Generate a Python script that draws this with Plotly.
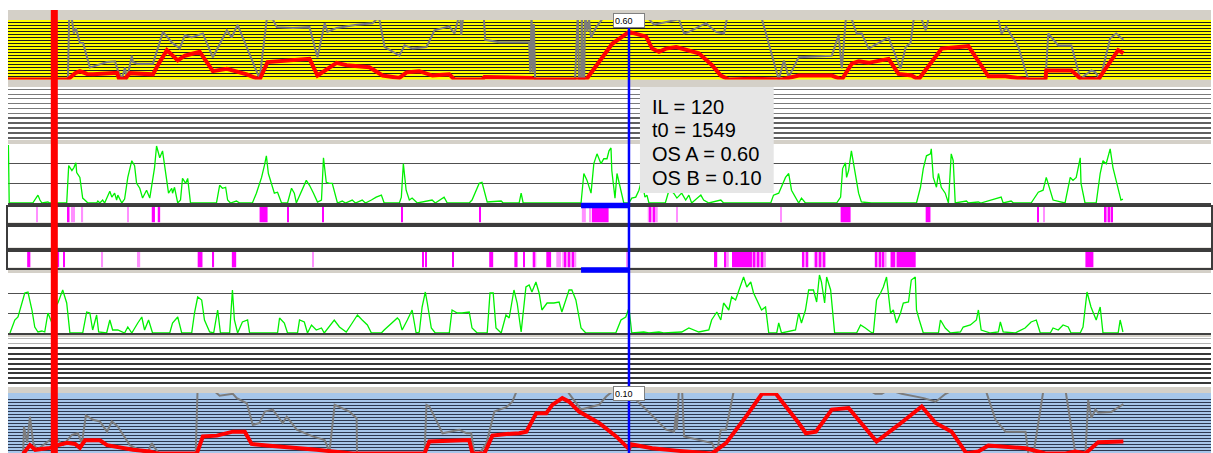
import plotly.graph_objects as go

# ---------------- cursor / window readout ----------------
T0 = 1549          # time of the blue cursor
IL = 120           # integration length (window ending at T0)
OS_A = 0.60        # overlap score, track A
OS_B = 0.10        # overlap score, track B
CURSOR_A = 110     # red reference cursor

X_RANGE = [-6, 3006.5]

# ---------------- track A overlap score (top, yellow) ----------------
osa_red_t = [-6, 144, 162, 174, 192, 207, 267, 272, 287, 299, 357, 369, 392, 419, 437, 474, 507, 542, 592, 624,
             644, 699, 749, 769, 817, 842, 899, 932, 974, 992, 1024, 1057, 1099, 1112, 1182, 1187, 1304, 1312,
             1442, 1474, 1507, 1549, 1592, 1607, 1624, 1642, 1667, 1724, 1757, 1779, 1799, 1857, 1932, 1974,
             2057, 2082, 2107, 2124, 2149, 2199, 2224, 2257, 2274, 2332, 2399, 2449, 2492, 2549, 2592, 2594,
             2657, 2682, 2707, 2724, 2774, 2787]
osa_red_v = [0.0, 0.0, 0.08, 0.105, 0.07, 0.065, 0.085, 0.01, 0.01, 0.08, 0.065, 0.18, 0.37, 0.24, 0.30, 0.35, 0.105,
             0.135, 0.065, 0.0, 0.22, 0.24, 0.26, 0.05, 0.21, 0.18, 0.155, 0.05, 0.02, 0.09, 0.105, 0.05, 0.065, 0.0,
             0.0, 0.03, 0.02, 0.0, 0.0, 0.22, 0.45, 0.60, 0.54, 0.39, 0.35, 0.39, 0.41, 0.33, 0.18, 0.05, 0.0, 0.01,
             0.0, 0.05, 0.05, 0.0, 0.20, 0.23, 0.21, 0.26, 0.07, 0.05, 0.0, 0.39, 0.42, 0.04, 0.04, 0.0, 0.0, 0.115,
             0.115, 0.0, 0.01, 0.0, 0.37, 0.33]

osa_gray_t = [144, 147, 154, 159, 164, 174, 182, 199, 242, 262, 269, 279, 287, 292, 304, 307, 317, 357, 382, 404,
              424, 437, 454, 482, 507, 542, 554, 569, 624, 642, 657, 667, 707, 749, 769, 787, 794, 817, 867, 907,
              917, 924, 937, 974, 987, 1007, 1042, 1062, 1099, 1112, 1126, 1129, 1136, 1184, 1189, 1224, 1299,
              1302, 1305, 1308, 1311, 1314, 1414, 1421, 1424, 1429, 1431, 1434, 1437, 1439, 1445, 1449, 1454,
              1467, 1482, 1500, 1590, 1599, 1612, 1642, 1674, 1687, 1699, 1742, 1767, 1787, 1794, 1810, 1870,
              1882, 1924, 1937, 1949, 1974, 2057, 2074, 2082, 2092, 2107, 2119, 2132, 2149, 2199, 2229, 2242,
              2254, 2262, 2282, 2292, 2299, 2320, 2460, 2474, 2482, 2494, 2524, 2549, 2592, 2599, 2624, 2657,
              2679, 2707, 2717, 2729, 2754, 2769, 2787]
osa_gray_v = [0.0, 0.76, 0.76, 0.58, 0.65, 0.46, 0.46, 0.15, 0.22, 0.23, 0.115, 0.01, 0.15, 0.0, 0.30, 0.22, 0.20,
              0.20, 0.60, 0.47, 0.39, 0.56, 0.53, 0.58, 0.28, 0.62, 0.53, 0.69, 0.01, 0.76, 0.76, 0.66, 0.65, 0.66,
              0.28, 0.71, 0.60, 0.65, 0.69, 0.71, 0.76, 0.76, 0.41, 0.30, 0.43, 0.39, 0.41, 0.62, 0.67, 0.58, 0.85,
              0.56, 0.9, 0.9, 0.50, 0.47, 0.47, 0.09, 0.85, 0.09, 0.70, 0.0, 0.0, 0.85, 0.0, 0.0, 0.85, 0.0, 0.0,
              0.85, 0.60, 0.76, 0.53, 0.66, 0.76, 0.9, 0.9, 0.76, 0.69, 0.72, 0.76, 0.58, 0.60, 0.71, 0.60, 0.58,
              0.76, 0.9, 0.9, 0.76, 0.0, 0.24, 0.03, 0.28, 0.30, 0.56, 0.14, 0.76, 0.76, 0.58, 0.58, 0.39, 0.53,
              0.14, 0.41, 0.46, 0.76, 0.76, 0.62, 0.76, 0.9, 0.9, 0.76, 0.58, 0.66, 0.41, 0.0, 0.0, 0.58, 0.43,
              0.43, 0.01, 0.115, 0.09, 0.0, 0.52, 0.58, 0.50]

# ---------------- activity, track A ----------------
act_a_t = [-5, -3, 56, 69, 74, 79, 94, 99, 141, 146, 154, 159, 164, 166, 174, 179, 181, 189, 194, 216, 219, 224,
           231, 236, 249, 254, 261, 266, 269, 279, 286, 294, 304, 311, 316, 324, 331, 341, 349, 356, 361, 366, 374,
           381, 386, 391, 396, 404, 406, 411, 419, 426, 431, 439, 444, 451, 516, 524, 531, 539, 544, 551, 566, 574,
           606, 616, 629, 636, 641, 646, 654, 661, 669, 679, 694, 704, 711, 716, 741, 749, 759, 769, 779, 784, 791,
           799, 806, 819, 831, 839, 856, 864, 881, 889, 904, 916, 929, 936, 974, 979, 984, 991, 999, 1006, 1019,
           1056, 1064, 1086, 1094, 1149, 1156, 1174, 1181, 1189, 1194, 1229, 1234, 1274, 1279, 1284, 1429, 1436,
           1444, 1454, 1461, 1469, 1479, 1486, 1494, 1499, 1504, 1506, 1514, 1519, 1529, 1536, 1549, 1556, 1566,
           1574, 1581, 1589, 1594, 1599, 1640, 1650, 1661, 1669, 1681, 1691, 1699, 1706, 1729, 1736, 1749, 1779,
           1786, 1904, 1911, 1924, 1941, 1949, 1956, 1969, 1974, 1981, 1991, 2069, 2079, 2084, 2091, 2094, 2099,
           2106, 2111, 2116, 2124, 2131, 2156, 2269, 2279, 2286, 2294, 2304, 2306, 2311, 2319, 2324, 2331, 2341,
           2349, 2356, 2361, 2366, 2394, 2399, 2424, 2430, 2481, 2486, 2506, 2512, 2556, 2574, 2586, 2594, 2604,
           2611, 2641, 2654, 2661, 2669, 2679, 2681, 2691, 2719, 2729, 2736, 2744, 2754, 2761, 2769, 2774, 2781,
           2786]
act_a_v = [2.95, 0, 0, 0.4, 0.15, 0, 0.05, 0, 0, 1.9, 1.65, 1.8, 2.05, 1.55, 1.3, 0.65, 0.25, 0.1, 0, 0, 0.1, 0,
           0.15, 0, 0.6, 0.3, 0.5, 0.15, 0.4, 0, 0.2, 1.3, 2.15, 1.9, 1.0, 0.75, 0.25, 0.65, 0.25, 1.15, 1.8, 2.9,
           2.3, 2.65, 2.0, 1.3, 0.5, 0.75, 0.5, 0.8, 0, 0.15, 1.25, 1.0, 1.25, 0, 0, 0.9, 0.75, 0.8, 0.15, 0, 0.1,
           0, 0, 0.5, 1.3, 1.9, 2.4, 1.5, 1.0, 0.5, 0.55, 0, 0, 0.75, 0.5, 0, 1.15, 0.9, 0.5, 0.05, 0.15, 2.3,
           1.05, 1.0, 1.0, 0, 0.1, 0, 0.15, 0, 0.15, 0, 0.15, 0.3, 0.4, 0, 0, 0.3, 2.0, 0.65, 0.15, 0.25, 0, 0.15,
           0, 0.3, 0, 0, 0.15, 1.0, 1.05, 0.5, 0.05, 0.1, 0, 0, 0.5, 0, 0, 1.5, 1.15, 0.5, 2.0, 2.5, 2.0, 2.25,
           2.25, 2.65, 2.8, 1.65, 0.25, 1.5, 0.65, 0, 0, 0.25, 0.3, 0.65, 1.2, 0.3, 0.4, 0, 0, 0.7, 0.5, 0.25, 0.5,
           0.15, 0.4, 0, 0.4, 0.15, 0, 0.15, 0, 0, 0.4, 0.5, 1.3, 1.5, 0.65, 0.15, 0, 0.25, 0, 0, 0.3, 1.75, 2.05,
           1.3, 1.65, 2.65, 2.0, 1.5, 0.5, 0.05, 0, 0, 0.8, 1.75, 2.4, 2.5, 2.75, 1.3, 0.8, 1.5, 0.8, 0.5, 0, 2.5,
           2.15, 0, 0.1, 0, 0.05, 0, 0.3, 0, 0.1, 0, 0, 0.55, 0.65, 1.3, 0.65, 0.15, 0, 1.3, 1.15, 1.3, 2.3, 1.0,
           0, 0, 1.5, 2.15, 2.0, 2.75, 1.8, 1.15, 0.8, 0.15, 0.2]

# ---------------- event rasters ----------------
ev_a_light_start = [66, 152, 157, 179, 292, 1431, 1449, 1596, 1667, 1929, 2587, 2739]
ev_a_light_dur = [3, 3, 3, 3, 3, 10, 5, 25, 3, 3, 3, 22]
ev_a_start = [144, 354, 369, 624, 694, 782, 979, 1174, 1456, 1601, 1611, 2079, 2292, 2571, 2741, 2749, 2757]
ev_a_dur = [4, 8, 6, 20, 3, 3, 4, 3, 42, 3, 3, 25, 12, 3, 3, 3, 3]

ev_b_light_start = [229, 317, 554, 757, 1307, 1367, 1382, 1544, 1787, 1857, 1982, 2012, 2164]
ev_b_light_dur = [3, 8, 12, 3, 10, 12, 35, 3, 12, 35, 17, 30, 30]
ev_b_start = [42, 119, 132, 469, 507, 556, 561, 1032, 1039, 1107, 1199, 1262, 1284, 1309, 1342, 1387, 1397, 1407,
              1762, 1789, 1807, 1862, 1872, 1882, 1984, 1994, 2017, 2027, 2037, 2166, 2176, 2184, 2204, 2219, 2692]
ev_b_dur = [8, 3, 3, 12, 3, 3, 3, 3, 3, 3, 10, 8, 3, 3, 12, 3, 3, 3, 8, 3, 50, 3, 3, 3, 3, 3, 3, 3, 3, 3, 3, 3,
            12, 48, 20]

# ---------------- activity, track B ----------------
act_b_t = [-1, 11, 19, 29, 36, 44, 54, 61, 69, 79, 86, 94, 104, 111, 119, 131, 141, 149, 181, 191, 199, 206, 216,
           221, 241, 249, 256, 269, 286, 294, 304, 319, 329, 336, 346, 356, 399, 406, 419, 429, 454, 461, 469, 479,
           486, 499, 509, 519, 526, 549, 556, 561, 569, 581, 594, 599, 669, 674, 686, 694, 719, 724, 736, 744, 754,
           766, 779, 786, 804, 811, 824, 841, 856, 869, 881, 894, 904, 929, 936, 954, 969, 974, 981, 994, 1006, 1016,
           1024, 1031, 1039, 1044, 1054, 1064, 1099, 1106, 1119, 1131, 1149, 1156, 1169, 1194, 1201, 1209, 1216,
           1229, 1241, 1249, 1261, 1269, 1279, 1291, 1299, 1306, 1316, 1324, 1331, 1344, 1361, 1374, 1381, 1399,
           1406, 1416, 1429, 1441, 1516, 1529, 1541, 1549, 1556, 1586, 1599, 1624, 1636, 1681, 1699, 1724, 1749,
           1756, 1769, 1779, 1786, 1799, 1806, 1816, 1824, 1836, 1844, 1854, 1861, 1874, 1881, 1891, 1899, 1919,
           1924, 1931, 1966, 1974, 1981, 1991, 1999, 2011, 2019, 2026, 2031, 2039, 2044, 2054, 2064, 2119, 2129,
           2141, 2154, 2161, 2169, 2179, 2186, 2194, 2204, 2211, 2219, 2229, 2236, 2249, 2256, 2266, 2269, 2276,
           2286, 2324, 2329, 2341, 2354, 2379, 2386, 2404, 2419, 2424, 2431, 2454, 2474, 2479, 2486, 2516, 2541,
           2556, 2569, 2579, 2604, 2611, 2624, 2636, 2649, 2656, 2679, 2686, 2696, 2706, 2719, 2729, 2736, 2774,
           2779, 2786]
act_b_v = [0, 0.65, 0.8, 1.5, 2.0, 2.05, 1.15, 0.3, 0.05, 0.1, 0.05, 1.0, 0.5, 1.3, 1.5, 2.15, 1.5, 0, 0, 1.05,
           1.0, 0.15, 0.9, 0.05, 0, 0.65, 0.15, 0.15, 0, 0.3, 0, 0.5, 0.8, 0.15, 0.65, 0, 0, 0.5, 0.8, 0, 0, 1.0,
           1.8, 1.65, 0.65, 0.05, 0, 1.15, 0, 0, 2.15, 0.65, 0, 0.55, 0.65, 0, 0, 0.75, 0.5, 0, 0, 0.65, 0.55, 0,
           0.4, 0.15, 0.25, 0, 0.5, 0.65, 0.3, 0.05, 0.5, 0.9, 0.65, 0.4, 0, 0, 0.15, 0.5, 0.75, 0.65, 0.15, 0.65,
           1.15, 0, 0.05, 1.3, 2.05, 1.5, 0.25, 0, 0, 1.15, 1.0, 1.0, 1.05, 0.25, 0, 0, 2.0, 2.0, 0.25, 0, 0.9,
           0.75, 2.15, 1.5, 0.05, 2.3, 2.4, 2.05, 2.55, 2.0, 1.15, 1.5, 1.5, 1.55, 1.05, 2.15, 2.15, 1.65, 0.25, 0,
           0, 0.65, 0.8, 1.25, 0, 0.05, 0, 0.05, 0, 0.05, 0.25, 0.05, 0.15, 0.65, 1.05, 0.65, 1.5, 1.15, 1.8, 1.65,
           2.15, 2.8, 2.3, 2.55, 2.0, 1.5, 1.15, 1.3, 0, 0, 0.5, 0, 0.15, 1.0, 0.5, 1.15, 2.15, 2.15, 1.55, 2.9,
           2.55, 1.5, 2.8, 2.15, 0, 0, 0.4, 0.25, 0.05, 0, 1.65, 2.0, 2.3, 2.8, 1.0, 1.15, 0.5, 1.0, 1.5, 1.55,
           2.65, 2.8, 1.15, 0.65, 0, 0, 0.65, 0.25, 0, 0.05, 0.3, 0.4, 0.65, 1.15, 0.15, 0, 0.05, 0.55, 0.05, 0,
           0.25, 0.55, 0.65, 0, 0, 0.25, 0.15, 0.4, 0.3, 0, 0, 0.3, 2.05, 1.3, 0.65, 1.3, 0, 0, 0.65, 0.05]

# ---------------- track B overlap score (bottom, blue) ----------------
osb_red_t = [32, 49, 62, 99, 119, 142, 162, 174, 187, 224, 242, 267, 307, 349, 367, 467, 482, 517, 549, 557, 587,
             604, 642, 682, 724, 767, 807, 857, 1037, 1049, 1149, 1157, 1187, 1207, 1242, 1274, 1292, 1317, 1342,
             1357, 1382, 1399, 1424, 1474, 1517, 1549, 1554, 1607, 1667, 1757, 1792, 1842, 1882, 1917, 1974, 1992,
             2017, 2057, 2099, 2169, 2224, 2282, 2317, 2357, 2394, 2424, 2449, 2507, 2542, 2592, 2642, 2667, 2692,
             2724, 2787]
osb_red_v = [0.04, 0.15, 0.09, 0.115, 0.15, 0.18, 0.165, 0.115, 0.21, 0.21, 0.15, 0.125, 0.09, 0.07, 0.045, 0.045,
             0.26, 0.27, 0.30, 0.32, 0.32, 0.165, 0.145, 0.13, 0.11, 0.09, 0.07, 0.045, 0.045, 0.195, 0.215, 0.045,
             0.045, 0.27, 0.29, 0.30, 0.32, 0.555, 0.555, 0.66, 0.745, 0.70, 0.575, 0.43, 0.26, 0.10, 0.16, 0.11,
             0.08, 0.045, 0.175, 0.51, 0.80, 0.80, 0.43, 0.30, 0.32, 0.60, 0.62, 0.195, 0.405, 0.64, 0.43, 0.32,
             0.045, 0.07, 0.145, 0.13, 0.11, 0.045, 0.045, 0.07, 0.045, 0.185, 0.195]

osb_gray_t = [32, 34, 42, 49, 57, 67, 99, 119, 132, 154, 169, 179, 189, 207, 224, 242, 254, 269, 299, 324, 342,
              354, 362, 374, 464, 469, 512, 514, 524, 557, 567, 592, 607, 624, 637, 657, 682, 692, 717, 757, 787,
              799, 812, 849, 867, 868, 1037, 1042, 1049, 1074, 1082, 1124, 1142, 1154, 1162, 1174, 1192, 1212,
              1242, 1257, 1269, 1392, 1407, 1429, 1474, 1492, 1512, 1549, 1562, 1592, 1642, 1662, 1667, 1669, 1674,
              1682, 1687, 1757, 1769, 1779, 1792, 1812, 2149, 2166, 2182, 2199, 2232, 2287, 2317, 2342, 2362, 2442,
              2467, 2492, 2542, 2549, 2562, 2587, 2642, 2667, 2692, 2699, 2707, 2717, 2724, 2757, 2787]
osb_gray_v = [0.04, 0.385, 0.18, 0.51, 0.18, 0.09, 0.215, 0.215, 0.15, 0.28, 0.30, 0.175, 0.525, 0.47, 0.45, 0.32,
              0.45, 0.385, 0.15, 0.09, 0.04, 0.175, 0.11, 0.04, 0.04, 0.9, 0.9, 0.82, 0.775, 0.80, 0.745, 0.68,
              0.405, 0.43, 0.575, 0.60, 0.43, 0.51, 0.345, 0.26, 0.215, 0.065, 0.66, 0.575, 0.49, 0.04, 0.04, 0.66,
              0.64, 0.385, 0.30, 0.345, 0.30, 0.30, 0.04, 0.04, 0.175, 0.575, 0.63, 0.70, 0.85, 0.85, 0.745, 0.60,
              0.66, 0.765, 0.85, 0.85, 0.745, 0.60, 0.345, 0.32, 0.555, 0.345, 0.85, 0.85, 0.26, 0.175, 0.04, 0.345,
              0.345, 0.85, 0.85, 0.80, 0.80, 0.85, 0.80, 0.745, 0.70, 0.80, 0.85, 0.85, 0.47, 0.32, 0.32, 0.04, 0.04,
              0.85, 0.85, 0.04, 0.04, 0.72, 0.495, 0.60, 0.56, 0.57, 0.67]

# ---------------- page geometry (pixel rows of each band) ----------------
FIG_W, FIG_H = 1213, 453
M_L, M_T = 8, 10
PLOT_H = FIG_H - M_T
UNITS_PER_PX = (X_RANGE[1] - X_RANGE[0]) / (FIG_W - M_L)


def ypaper(row):
    return (FIG_H - row) / PLOT_H


def ydom(top, bottom):
    return [ypaper(bottom), ypaper(top)]


bands = [
    ("osa", 20, 79.5, "#ffff00"),
    ("grid1", 87, 140, "#ffffff"),
    ("act1", 144, 203, "#ffffff"),
    ("evA", 206.5, 222.5, "#ffffff"),
    ("evE", 226.5, 247.5, "#ffffff"),
    ("evB", 251.5, 267.5, "#ffffff"),
    ("act2", 273, 333, "#ffffff"),
    ("grid2", 337, 387, "#ffffff"),
    ("osb", 393, 453, "#a6c6ea"),
]
idx = {name: i + 1 for i, (name, *_rest) in enumerate(bands)}


def ax(name):
    i = idx[name]
    return ("x" if i == 1 else f"x{i}"), ("y" if i == 1 else f"y{i}")


fig = go.Figure()

# every band gets a (possibly empty) trace so that its subplot is created
for name, *_rest in bands:
    xa_, ya_ = ax(name)
    fig.add_trace(go.Scatter(x=[None], y=[None], mode="lines", xaxis=xa_, yaxis=ya_, hoverinfo="skip"))

GRAY_LINE = dict(color="#7c7c7c", width=2)
RED_LINE = dict(color="#ff0000", width=4)
GREEN_LINE = dict(color="#00f000", width=1.3)

# ---- traces ----
xa, ya = ax("osa")
fig.add_trace(go.Scatter(x=osa_gray_t, y=osa_gray_v, mode="lines", line=GRAY_LINE, xaxis=xa, yaxis=ya))
fig.add_trace(go.Scatter(x=osa_red_t, y=osa_red_v, mode="lines", line=RED_LINE, xaxis=xa, yaxis=ya))

xa, ya = ax("act1")
fig.add_trace(go.Scatter(x=act_a_t, y=act_a_v, mode="lines", line=GREEN_LINE, xaxis=xa, yaxis=ya))

xa, ya = ax("act2")
fig.add_trace(go.Scatter(x=act_b_t, y=act_b_v, mode="lines", line=GREEN_LINE, xaxis=xa, yaxis=ya))


def add_events(starts, durs, color, band):
    xa_, ya_ = ax(band)
    fig.add_trace(go.Bar(x=[s + d / 2 for s, d in zip(starts, durs)], y=[1] * len(starts), width=durs, base=0,
                         marker=dict(color=color, line=dict(width=0)), xaxis=xa_, yaxis=ya_))


add_events(ev_a_light_start, ev_a_light_dur, "#ff90ff", "evA")
add_events(ev_a_start, ev_a_dur, "#ff00ff", "evA")
add_events(ev_b_light_start, ev_b_light_dur, "#ff90ff", "evB")
add_events(ev_b_start, ev_b_dur, "#ff00ff", "evB")

xa, ya = ax("osb")
fig.add_trace(go.Scatter(x=osb_gray_t, y=osb_gray_v, mode="lines", line=GRAY_LINE, xaxis=xa, yaxis=ya))
fig.add_trace(go.Scatter(x=osb_red_t, y=osb_red_v, mode="lines", line=RED_LINE, xaxis=xa, yaxis=ya))

# ---- axes ----
layout = {}
hidden = dict(showticklabels=False, ticks="", zeroline=False, showgrid=False, showline=False, fixedrange=True)
for name, top, bottom, _bg in bands:
    i = idx[name]
    xkey = "xaxis" if i == 1 else f"xaxis{i}"
    ykey = "yaxis" if i == 1 else f"yaxis{i}"
    xa_, ya_ = ax(name)
    xcfg = dict(hidden, domain=[0, 1], range=X_RANGE, anchor=ya_)
    if i > 1:
        xcfg["matches"] = "x"
    ycfg = dict(hidden, domain=ydom(top, bottom), anchor=xa_)
    layout[xkey] = xcfg
    layout[ykey] = ycfg

layout["yaxis"].update(range=[0, 0.75], showgrid=True, tickmode="linear", tick0=0, dtick=0.0375,
                       gridcolor="#1e1e1e", gridwidth=1)

g1 = layout[f"yaxis{idx['grid1']}"]
g1.update(range=[0, 53], showgrid=True, tickmode="array", tickvals=[22.3, 17.3, 12.3, 7.3, 2.3],
          gridcolor="#606060", gridwidth=2,
          minor=dict(tickmode="array", tickvals=[50.7, 46, 41.3, 36.7, 31.7, 26.7], showgrid=True,
                     gridcolor="#7a7a7a", gridwidth=1))

for name in ("act1", "act2"):
    layout[f"yaxis{idx[name]}"].update(range=[0, 3], showgrid=True, tickmode="array", tickvals=[0, 1, 2],
                                       gridcolor="#505050", gridwidth=1)
    layout[f"xaxis{idx[name]}"].update(showline=True, linecolor="#404040", linewidth=1.5)

for name in ("evA", "evE", "evB"):
    i = idx[name]
    layout[f"yaxis{i}"].update(range=[0, 1], showline=True, mirror=True, linecolor="#3c3c3c", linewidth=2)
    layout[f"xaxis{i}"].update(showline=True, mirror=True, linecolor="#3c3c3c", linewidth=2)

g2 = layout[f"yaxis{idx['grid2']}"]
g2.update(range=[0, 50], showgrid=True, tickmode="array",
          tickvals=[38.7, 33, 27.7, 23, 18.3, 13.7, 8.7, 3.7], gridcolor="#383838", gridwidth=2,
          minor=dict(tickmode="array", tickvals=[48.7, 43.7], showgrid=True, gridcolor="#b4b4b4", gridwidth=1))

layout[f"yaxis{idx['osb']}"].update(range=[0.05, 0.81], showgrid=True, tickmode="array",
                                    tickvals=[0.05 + 0.038 * k for k in range(1, 19)],
                                    gridcolor="#2c3850", gridwidth=1)

# ---- backgrounds, cursors and window markers ----
shapes = [dict(type="rect", xref="paper", yref="paper", x0=0, x1=1, y0=0, y1=1, fillcolor="#d4d0c8",
               line=dict(width=0), layer="below")]
for name, top, bottom, bg in bands:
    xa_, ya_ = ax(name)
    shapes.append(dict(type="rect", xref=f"{xa_} domain", yref=f"{ya_} domain", x0=0, x1=1, y0=0, y1=1,
                       fillcolor=bg, line=dict(width=0), layer="below"))

shapes.append(dict(type="line", xref="x", yref="paper", x0=CURSOR_A, x1=CURSOR_A, y0=0, y1=1,
                   line=dict(color="#ff0000", width=7), layer="above"))
shapes.append(dict(type="line", xref="x", yref="paper", x0=T0, x1=T0, y0=0, y1=ypaper(20),
                   line=dict(color="#0000ff", width=2.5), layer="above"))
for row in (205.5, 270):
    shapes.append(dict(type="line", xref="x", yref="paper", x0=T0 - IL, x1=T0, y0=ypaper(row), y1=ypaper(row),
                       line=dict(color="#0000ff", width=5.5), layer="above"))

# readout box beside the blue cursor
shapes.append(dict(type="rect", xref="x", yref="paper", x0=T0 + 11 * UNITS_PER_PX, x1=T0 + 145 * UNITS_PER_PX,
                   y0=ypaper(193), y1=ypaper(87), fillcolor="#e6e6e6", line=dict(width=0), layer="above"))

readout = [f"IL = {IL}", f"t0 = {T0}", f"OS A = {OS_A:.2f}", f"OS B = {OS_B:.2f}"]
annotations = []
for k, line in enumerate(readout):
    annotations.append(dict(x=T0, xref="x", xanchor="left", xshift=21, y=ypaper(107 + 23.5 * k), yref="paper",
                            yanchor="middle", text=line, showarrow=False,
                            font=dict(family="Liberation Sans, Arial, sans-serif", size=20, color="#000000")))

for name, val in (("osa", OS_A), ("osb", OS_B)):
    xa_, ya_ = ax(name)
    annotations.append(dict(x=T0, xref="x", y=1, yref=f"{ya_} domain", xanchor="center", yanchor="middle",
                            text=f"{val:.2f}", showarrow=False, align="left", width=28, height=11,
                            bgcolor="#ffffff", bordercolor="#808080", borderwidth=1, borderpad=1,
                            font=dict(family="Liberation Sans, Arial, sans-serif", size=9, color="#000000")))

fig.update_layout(
    width=FIG_W, height=FIG_H, autosize=False,
    margin=dict(l=M_L, r=0, t=M_T, b=0, pad=0),
    paper_bgcolor="#ffffff", plot_bgcolor="rgba(0,0,0,0)",
    showlegend=False, barmode="overlay",
    shapes=shapes, annotations=annotations,
    **layout,
)

fig.write_html("out.html", config={"displayModeBar": False})
